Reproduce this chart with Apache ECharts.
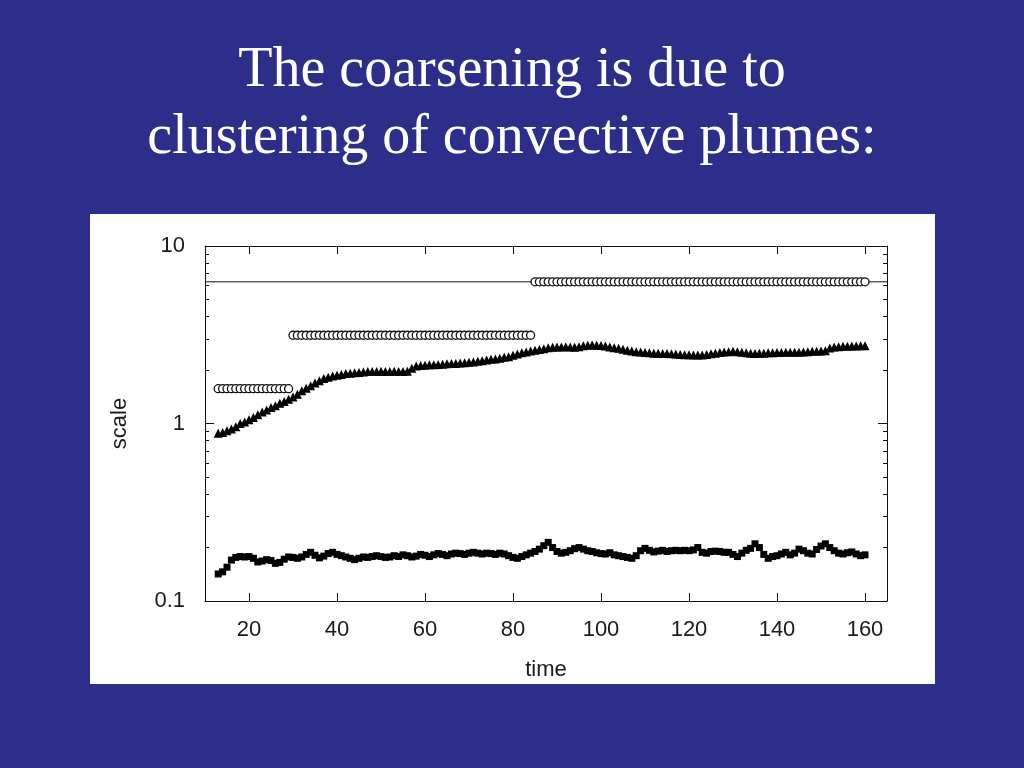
<!DOCTYPE html>
<html>
<head>
<meta charset="utf-8">
<script src="https://cdn.jsdelivr.net/npm/echarts@6/dist/echarts.min.js"></script>
<style>
html,body{margin:0;padding:0;background:#2d2d8a;}
#chart{width:1024px;height:768px;}
</style>
</head>
<body>
<div id="chart"></div>
<script>
// ---- data ----
const times = [
  13,14,15,16,17,18,19,20,21,22,23,24,25,26,27,28,29,30,31,32,
  33,34,35,36,37,38,39,40,41,42,43,44,45,46,47,48,49,50,51,52,
  53,54,55,56,57,58,59,60,61,62,63,64,65,66,67,68,69,70,71,72,
  73,74,75,76,77,78,79,80,81,82,83,84,85,86,87,88,89,90,91,92,
  93,94,95,96,97,98,99,100,101,102,103,104,105,106,107,108,109,110,111,112,
  113,114,115,116,117,118,119,120,121,122,123,124,125,126,127,128,129,130,131,132,
  133,134,135,136,137,138,139,140,141,142,143,144,145,146,147,148,149,150,151,152,
  153,154,155,156,157,158,159,160
];
// triangles (large-scale measure)
const triangleValues = [
  0.88,0.89,0.91,0.93,0.96,1.00,1.02,1.05,1.08,1.12,1.16,1.19,1.23,1.26,1.30,1.33,1.37,1.41,1.46,1.53,
  1.58,1.63,1.69,1.74,1.79,1.82,1.85,1.87,1.89,1.91,1.92,1.93,1.94,1.95,1.96,1.96,1.96,1.97,1.96,1.96,
  1.97,1.96,1.96,1.97,2.05,2.11,2.12,2.13,2.14,2.14,2.15,2.16,2.17,2.18,2.18,2.19,2.20,2.21,2.22,2.24,
  2.26,2.28,2.30,2.31,2.33,2.36,2.38,2.42,2.46,2.50,2.53,2.56,2.59,2.61,2.64,2.67,2.69,2.70,2.70,2.71,
  2.70,2.69,2.71,2.74,2.76,2.77,2.76,2.75,2.73,2.70,2.67,2.65,2.62,2.59,2.56,2.54,2.53,2.51,2.50,2.49,
  2.49,2.48,2.48,2.47,2.46,2.45,2.44,2.44,2.43,2.43,2.43,2.45,2.47,2.49,2.51,2.53,2.54,2.55,2.54,2.52,
  2.50,2.49,2.48,2.49,2.49,2.50,2.50,2.51,2.51,2.52,2.52,2.52,2.52,2.53,2.54,2.55,2.55,2.56,2.57,2.66,
  2.70,2.71,2.72,2.72,2.73,2.73,2.74,2.74
];
// filled squares (small-scale measure)
const squareValues = [
  0.142,0.146,0.155,0.170,0.176,0.178,0.177,0.178,0.174,0.166,0.168,0.171,0.169,0.163,0.165,0.172,0.177,0.176,0.174,0.177,
  0.183,0.188,0.181,0.175,0.179,0.185,0.188,0.183,0.180,0.177,0.174,0.171,0.174,0.177,0.176,0.178,0.180,0.178,0.176,0.177,
  0.180,0.178,0.182,0.180,0.177,0.179,0.183,0.181,0.178,0.182,0.185,0.183,0.180,0.184,0.186,0.185,0.183,0.186,0.188,0.186,
  0.184,0.186,0.185,0.183,0.186,0.184,0.180,0.176,0.174,0.178,0.182,0.186,0.190,0.196,0.205,0.214,0.200,0.190,0.186,0.188,
  0.192,0.197,0.200,0.196,0.192,0.190,0.187,0.185,0.184,0.187,0.182,0.180,0.178,0.176,0.174,0.180,0.192,0.198,0.193,0.189,
  0.191,0.193,0.190,0.192,0.193,0.192,0.193,0.192,0.194,0.200,0.188,0.186,0.190,0.191,0.190,0.188,0.188,0.183,0.178,0.186,
  0.193,0.198,0.210,0.200,0.183,0.174,0.178,0.180,0.184,0.188,0.182,0.186,0.196,0.192,0.186,0.184,0.195,0.204,0.210,0.200,
  0.192,0.186,0.184,0.187,0.189,0.184,0.180,0.182
];
// open circles: plateau levels [fromTime, toTime, value]
const circleSegments = [
  [13, 29, 1.571],
  [30, 84, 3.142],
  [85, 160, 6.283]
];
// horizontal reference line (system size)
const refLineLevel = 6.283;
const refLineRange = [10, 165];
const xTickValues = [20, 40, 60, 80, 100, 120, 140, 160];
const yMinorTickValues = [0.2,0.3,0.4,0.5,0.6,0.7,0.8,0.9,2,3,4,5,6,7,8,9];

// ---- build series data ----
const triData = times.map((t, i) => [t, triangleValues[i]]);
const sqData = times.map((t, i) => [t, squareValues[i]]);
const circData = [];
times.forEach(t => {
  circleSegments.forEach(s => { if (t >= s[0] && t <= s[1]) circData.push([t, s[2]]); });
});
const refData = refLineRange.map(x => [x, refLineLevel]);
const minorLog = yMinorTickValues.map(v => Math.log10(v));

const labelFont = {fontFamily: 'Liberation Sans', fontSize: 22, color: '#1a1a1a'};
const axisLineStyle = {onZero: false, lineStyle: {color: '#111', width: 1}};

const chart = echarts.init(document.getElementById('chart'), null, {renderer: 'canvas'});
chart.setOption({
  backgroundColor: '#2d2d8a',
  animation: false,
  graphic: [
    {type: 'rect', shape: {x: 90, y: 214, width: 845, height: 470}, style: {fill: '#ffffff'}, z: -10},
    {type: 'text', x: 512, y: 71, style: {text: 'The coarsening is due to', fill: '#ffffff', font: '56px "Liberation Serif"', textAlign: 'center', textVerticalAlign: 'middle'}},
    {type: 'text', x: 512, y: 138, style: {text: 'clustering of convective plumes:', fill: '#ffffff', font: '56px "Liberation Serif"', textAlign: 'center', textVerticalAlign: 'middle'}}
  ],
  grid: {left: 205, top: 246, width: 682, height: 355, containLabel: false},
  xAxis: [
    {type: 'value', min: 10, max: 165, position: 'bottom',
     axisLine: axisLineStyle,
     axisTick: {inside: true, length: 8, lineStyle: {color: '#111'}, customValues: xTickValues},
     axisLabel: Object.assign({margin: 18, customValues: xTickValues}, labelFont),
     splitLine: {show: false},
     name: 'time', nameLocation: 'middle', nameGap: 58,
     nameTextStyle: labelFont},
    {type: 'value', min: 10, max: 165, position: 'top',
     axisLine: axisLineStyle,
     axisTick: {inside: true, length: 8, lineStyle: {color: '#111'}, customValues: xTickValues},
     axisLabel: {show: false}, splitLine: {show: false}}
  ],
  yAxis: [
    {type: 'log', logBase: 10, min: 0.1, max: 10, position: 'left',
     axisLine: axisLineStyle,
     axisTick: {inside: true, length: 9, lineStyle: {color: '#111'}},
     axisLabel: Object.assign({margin: 20}, labelFont),
     splitLine: {show: false},
     name: 'scale', nameLocation: 'middle', nameGap: 74, nameRotate: 90,
     nameTextStyle: labelFont},
    {type: 'value', min: -1, max: 1, position: 'left',
     axisLine: {show: false},
     axisTick: {inside: true, length: 4, lineStyle: {color: '#111'}, customValues: minorLog},
     axisLabel: {show: false}, splitLine: {show: false}},
    {type: 'log', logBase: 10, min: 0.1, max: 10, position: 'right',
     axisLine: axisLineStyle,
     axisTick: {inside: true, length: 9, lineStyle: {color: '#111'}},
     axisLabel: {show: false}, splitLine: {show: false}},
    {type: 'value', min: -1, max: 1, position: 'right',
     axisLine: {show: false},
     axisTick: {inside: true, length: 4, lineStyle: {color: '#111'}, customValues: minorLog},
     axisLabel: {show: false}, splitLine: {show: false}}
  ],
  series: [
    {type: 'line', data: refData, symbol: 'none', silent: true,
     lineStyle: {color: '#111', width: 1}, z: 1},
    {type: 'scatter', data: circData, symbol: 'circle', symbolSize: 8,
     itemStyle: {color: '#ffffff', borderColor: '#111', borderWidth: 1.3, opacity: 1}, z: 3},
    {type: 'scatter', data: triData, symbol: 'triangle', symbolSize: 9,
     itemStyle: {color: '#000', opacity: 1}, z: 3},
    {type: 'scatter', data: sqData, symbol: 'rect', symbolSize: 7,
     itemStyle: {color: '#000', opacity: 1}, z: 3}
  ]
});
</script>
</body>
</html>
